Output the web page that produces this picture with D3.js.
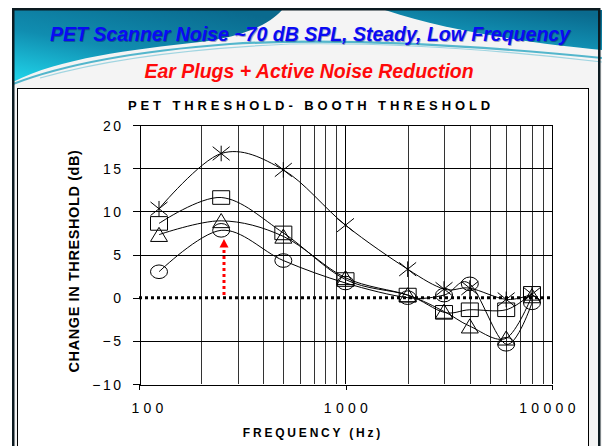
<!DOCTYPE html>
<html>
<head>
<meta charset="utf-8">
<script src="https://cdn.jsdelivr.net/npm/d3@7"></script>
<style>
  body { margin: 0; background: #fff; }
  svg { display: block; font-family: Arial, "Liberation Sans", sans-serif; }
</style>
</head>
<body>
<svg id="chart" width="602" height="446"></svg>
<script>
// Test frequencies (Hz) and threshold shifts (dB) for each listener curve
const freqs = [125, 250, 500, 1000, 2000, 3000, 4000, 6000, 8000];
const starVals = [10.3, 16.7, 14.8, 8.4, 3.3, 1.0, 1.1, -0.2, 0.4];
const squareVals = [8.6, 11.6, 7.5, 2.1, 0.3, -1.7, -1.4, -1.4, 0.5];
const triangleVals = [7.3, 8.9, 7.1, 2.3, 0.3, -1.6, -3.3, -4.7, 0.2];
const circleVals = [3.0, 7.8, 4.3, 1.7, 0.0, 0.3, 1.6, -5.4, -0.6];

const yTicks = [-10, -5, 0, 5, 10, 15, 20];
const xMajor = [100, 1000, 10000];
const xMinor = [200, 300, 400, 500, 600, 700, 800, 900, 2000, 3000, 4000, 5000, 6000, 7000, 8000, 9000];

// Red arrow marking the shift at 250 Hz
const arrowFreq = 258;
const arrowFrom = 0.3;
const arrowTo = 6.8;

const titleMain = "PET Scanner Noise ~70 dB SPL, Steady, Low Frequency";
const titleSub = "Ear Plugs + Active Noise Reduction";
const chartTitle = "PET THRESHOLD- BOOTH THRESHOLD";
const yTitle = "CHANGE IN THRESHOLD (dB)";
const xTitle = "FREQUENCY (Hz)";

const svg = d3.select("#chart");

// ---------- slide background ----------
const defs = svg.append("defs");
const grad = defs.append("linearGradient").attr("id", "hdr")
  .attr("x1", "0.8").attr("y1", "0").attr("x2", "0.1").attr("y2", "1");
grad.append("stop").attr("offset", "0").attr("stop-color", "#0a6a8e");
grad.append("stop").attr("offset", "0.55").attr("stop-color", "#108db0");
grad.append("stop").attr("offset", "1").attr("stop-color", "#1fd0e6");

svg.append("rect").attr("x", 13).attr("y", 10).attr("width", 600).attr("height", 450)
  .attr("fill", "#f4f4f4");
svg.append("path")
  .attr("d", "M13,10 L282,10 C268,26 240,37 200,42 C130,50 60,58 13,82 Z")
  .attr("fill", "url(#hdr)");
svg.append("path")
  .attr("d", "M385,10 L602,10 L602,50 C540,44 450,32 385,10 Z")
  .attr("fill", "url(#hdr)");
svg.append("path")
  .attr("d", "M13,84 C70,62 150,50 230,44 C330,38 460,44 602,58")
  .attr("fill", "none").attr("stroke", "#2aa6c2").attr("stroke-width", 2.2).attr("opacity", 0.8);
svg.append("path")
  .attr("d", "M40,78 C110,58 200,48 290,44 C400,42 500,50 602,62")
  .attr("fill", "none").attr("stroke", "#7cc8d8").attr("stroke-width", 1.2).attr("opacity", 0.7);
svg.append("rect").attr("x", 13.25).attr("y", 9.25).attr("width", 586).attr("height", 450)
  .attr("fill", "none").attr("stroke", "#0c1a20").attr("stroke-width", 2.5);

// headings
svg.append("text").attr("x", 310).attr("y", 41).attr("text-anchor", "middle")
  .attr("font-size", 19.5).attr("font-weight", "bold").attr("font-style", "italic")
  .attr("fill", "#000060").attr("opacity", 0.35).attr("transform", "translate(0.8,0.8)")
  .text(titleMain);
svg.append("text").attr("x", 310).attr("y", 41).attr("text-anchor", "middle")
  .attr("font-size", 19.5).attr("font-weight", "bold").attr("font-style", "italic")
  .attr("fill", "#0a0af5").text(titleMain);
svg.append("text").attr("x", 309).attr("y", 78).attr("text-anchor", "middle")
  .attr("font-size", 19.5).attr("font-weight", "bold").attr("font-style", "italic")
  .attr("fill", "#ff0a0a").text(titleSub);

// chart box
svg.append("rect").attr("x", 17.5).attr("y", 88.5).attr("width", 571).attr("height", 370)
  .attr("fill", "#fff").attr("stroke", "#000").attr("stroke-width", 1);

// ---------- plot ----------
const x = d3.scaleLog().domain([100, 10000]).range([139, 552]);
const y = d3.scaleLinear().domain([-10, 20]).range([384, 125]);

const grid = svg.append("g").attr("shape-rendering", "crispEdges");
grid.selectAll("line.vmin").data(xMinor).join("line")
  .attr("x1", d => Math.round(x(d)) + 0.5).attr("x2", d => Math.round(x(d)) + 0.5)
  .attr("y1", y(20)).attr("y2", y(-10))
  .attr("stroke", "#333").attr("stroke-width", 1);
grid.selectAll("line.vmaj").data([1000, 10000]).join("line")
  .attr("x1", d => Math.round(x(d)) + 0.5).attr("x2", d => Math.round(x(d)) + 0.5)
  .attr("y1", y(20)).attr("y2", y(-10))
  .attr("stroke", "#000").attr("stroke-width", 1);
grid.selectAll("line.h").data(yTicks.filter(v => v !== 0 && v !== -10)).join("line")
  .attr("x1", x(100)).attr("x2", x(10000))
  .attr("y1", d => Math.round(y(d)) + 0.5).attr("y2", d => Math.round(y(d)) + 0.5)
  .attr("stroke", "#000").attr("stroke-width", 1);

// zero reference line
svg.append("line")
  .attr("x1", x(100)).attr("x2", x(10000)).attr("y1", y(0)).attr("y2", y(0))
  .attr("stroke", "#000").attr("stroke-width", 3).attr("stroke-dasharray", "3,3");

// axes
const yAxis = svg.append("g").attr("transform", `translate(${Math.round(x(100)) + 0.5},0)`)
  .call(d3.axisLeft(y).tickValues(yTicks).tickSize(7).tickSizeOuter(0).tickPadding(9)
    .tickFormat(d3.format("d")));
const xAxis = svg.append("g").attr("transform", `translate(0,${Math.round(y(-10)) + 0.5})`)
  .call(d3.axisBottom(x).tickValues(xMajor).tickSize(5).tickSizeOuter(0).tickPadding(14)
    .tickFormat(d => String(d)));
[yAxis, xAxis].forEach(g => {
  g.attr("shape-rendering", "crispEdges");
  g.select(".domain").attr("stroke", "#000");
  g.selectAll(".tick line").attr("stroke", "#000");
  g.selectAll(".tick text").attr("font-family", "Arial, 'Liberation Sans', sans-serif")
    .attr("font-size", 14).attr("fill", "#000").attr("letter-spacing", 2.5);
});
yAxis.selectAll(".tick text").attr("dy", "0.36em");
xAxis.selectAll(".tick text").attr("letter-spacing", 4.3)
  .attr("dx", d => d === 100 ? 10 : (d === 10000 ? -3 : 2));

// series curves and markers
const line = d3.line().x(d => x(d.f)).y(d => y(d.v)).curve(d3.curveCardinal.tension(0));
const series = [
  { vals: starVals, shape: "star" },
  { vals: squareVals, shape: "square" },
  { vals: triangleVals, shape: "triangle" },
  { vals: circleVals, shape: "circle" }
];

const hw = 8.5, hh = 6.8;
function markerPath(shape) {
  switch (shape) {
    case "square":
      return `M${-hw},${-hh}H${hw}V${hh}H${-hw}Z`;
    case "triangle":
      return `M0,${-hh - 0.5}L${hw},${hh}L${-hw},${hh}Z`;
    case "star":
      return `M${-hw},${-hh}L${hw},${hh}M${-hw},${hh}L${hw},${-hh}M0,${-hh - 1}V${hh + 1}`;
  }
  return null;
}

series.forEach(s => {
  const pts = freqs.map((f, i) => ({ f, v: s.vals[i] }));
  svg.append("path").datum(pts).attr("d", line)
    .attr("fill", "none").attr("stroke", "#000").attr("stroke-width", 1);
  const g = svg.append("g");
  if (s.shape === "circle") {
    g.selectAll("ellipse").data(pts).join("ellipse")
      .attr("cx", d => x(d.f)).attr("cy", d => y(d.v))
      .attr("rx", hw).attr("ry", hh)
      .attr("fill", "none").attr("stroke", "#000").attr("stroke-width", 1);
  } else {
    g.selectAll("path").data(pts).join("path")
      .attr("transform", d => `translate(${x(d.f)},${y(d.v)})`)
      .attr("d", markerPath(s.shape))
      .attr("fill", "none").attr("stroke", "#000").attr("stroke-width", 1);
  }
});

// red arrow
const ax = x(arrowFreq);
svg.append("line")
  .attr("x1", ax).attr("x2", ax).attr("y1", y(arrowFrom)).attr("y2", y(arrowTo) + 8)
  .attr("stroke", "#ff0000").attr("stroke-width", 3).attr("stroke-dasharray", "3,3");
svg.append("path")
  .attr("d", `M${ax},${y(arrowTo)}L${ax + 4.5},${y(arrowTo) + 8.5}L${ax - 4.5},${y(arrowTo) + 8.5}Z`)
  .attr("fill", "#ff0000");

// titles
svg.append("text").attr("x", 311).attr("y", 110).attr("text-anchor", "middle")
  .attr("font-size", 13).attr("font-weight", "bold").attr("letter-spacing", 3.9)
  .text(chartTitle);
svg.append("text").attr("transform", "translate(79,261) rotate(-90)").attr("text-anchor", "middle")
  .attr("font-size", 14.5).attr("font-weight", "bold").attr("letter-spacing", 0.6)
  .text(yTitle);
svg.append("text").attr("x", 313).attr("y", 437).attr("text-anchor", "middle")
  .attr("font-size", 12).attr("font-weight", "bold").attr("letter-spacing", 2.8)
  .text(xTitle);
</script>
</body>
</html>
